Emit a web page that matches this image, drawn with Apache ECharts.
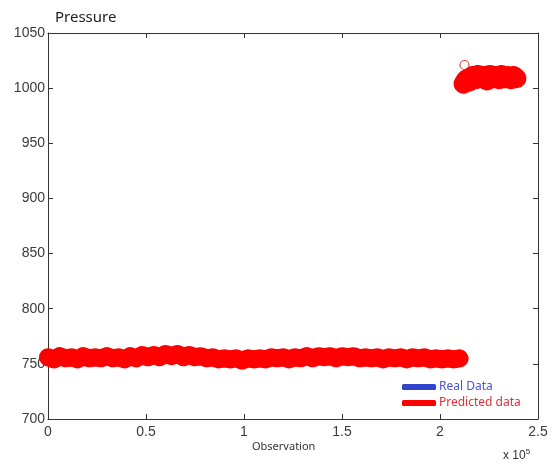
<!DOCTYPE html>
<html>
<head>
<meta charset="utf-8">
<script src="https://cdn.jsdelivr.net/npm/echarts@6/dist/echarts.min.js"></script>
<style>
html,body{margin:0;padding:0;background:#fff;}
#c{width:555px;height:466px;}
</style>
</head>
<body>
<div id="c"></div>
<script>
var obsLow = [0,3000,6000,9000,12000,15000,18000,21000,24000,27000,
  30000,33000,36000,39000,42000,45000,48000,51000,54000,57000,
  60000,63000,66000,69000,72000,75000,78000,81000,84000,87000,
  90000,93000,96000,99000,102000,105000,108000,111000,114000,117000,
  120000,123000,126000,129000,132000,135000,138000,141000,144000,147000,
  150000,153000,156000,159000,162000,165000,168000,171000,174000,177000,
  180000,183000,186000,189000,192000,195000,198000,201000,204000,207000,210000];
var predLow = [756,754,757,755,756,754,757,755,756,755,
  757,755,756,754,757,755,758,756,758,756,
  759,757,759,756,758,756,757,755,756,754,
  755,754,755,753,755,754,755,754,756,755,
  756,754,756,755,757,755,757,756,757,755,
  757,756,757,755,756,755,756,754,756,755,
  756,754,756,755,756,754,755,754,755,754,755];
var obsHigh = [212000,213500,215000,216500,218000,219500,221000,222500,224000,225500,
  227000,228500,230000,231500,233000,234500,236000,237500,239000];
var predHigh = [1004,1008,1006,1011,1008,1012,1009,1011,1007,1012,
  1009,1011,1008,1012,1009,1011,1008,1011,1009];
var outlierObs = 212500, outlierVal = 1021;
var realObs = [0,30000,60000,90000,120000,150000,180000,210000,null,215000,225000,235000];
var realVal = [755,755,756,754,755,755,754,754,null,1008,1008,1009];
var xTicks = ['0','0.5','1','1.5','2','2.5'];
var yTicks = [700,750,800,850,900,950,1000,1050];

var lowData = obsLow.map(function(o,k){return [o, predLow[k]];});
var highData = obsHigh.map(function(o,k){return [o, predHigh[k]];});
var realData = realObs.map(function(o,k){return o === null ? [null,null] : [o, realVal[k]];});

var chart = echarts.init(document.getElementById('c'), null, {renderer:'canvas'});
var axisCol = '#333';
var lblFont = {color:'#3a3a3a', fontSize:14, fontFamily:'Liberation Sans, Arial, sans-serif'};
chart.setOption({
  animation:false,
  backgroundColor:'#fff',
  title:{text:'Pressure', left:50, top:5,
    textStyle:{fontSize:15, fontWeight:'normal', color:'#222', fontFamily:'Noto Sans, Open Sans, sans-serif'}},
  grid:{left:48, right:17, top:33, bottom:47},
  legend:{
    orient:'vertical', left:397, top:376, itemGap:4, itemWidth:34, itemHeight:6,
    icon:'roundRect',
    data:[
      {name:'Real Data', textStyle:{color:'#4a55d0'}},
      {name:'Predicted data', textStyle:{color:'#e0303a'}}
    ],
    textStyle:{fontSize:12, padding:[0,0,0,-2], fontFamily:'Noto Sans, Open Sans, sans-serif'}
  },
  xAxis:[{
    type:'value', min:0, max:250000, interval:50000,
    axisLine:{show:true, onZero:false, lineStyle:{color:axisCol}},
    axisTick:{show:true, inside:true, length:5, lineStyle:{color:axisCol}},
    splitLine:{show:false},
    axisLabel:Object.assign({margin:6, formatter:function(v){return xTicks[Math.round(v/50000)];}}, lblFont)
  },{
    type:'value', position:'top', min:0, max:250000, interval:50000,
    axisLine:{show:true, onZero:false, lineStyle:{color:axisCol}},
    axisTick:{show:true, inside:true, length:5, lineStyle:{color:axisCol}},
    splitLine:{show:false}, axisLabel:{show:false}
  }],
  yAxis:[{
    type:'value', min:700, max:1050, interval:50,
    axisLine:{show:true, onZero:false, lineStyle:{color:axisCol}},
    axisTick:{show:true, inside:true, length:5, lineStyle:{color:axisCol}},
    splitLine:{show:false},
    axisLabel:Object.assign({margin:3, formatter:function(v){return yTicks.indexOf(v)>=0 ? String(v) : '';}}, lblFont)
  },{
    type:'value', position:'right', min:700, max:1050, interval:50,
    axisLine:{show:true, onZero:false, lineStyle:{color:axisCol}},
    axisTick:{show:true, inside:true, length:5, lineStyle:{color:axisCol}},
    splitLine:{show:false}, axisLabel:{show:false}
  }],
  series:[
    {name:'Real Data', type:'line', data:realData, showSymbol:false, symbol:'none', z:1,
      connectNulls:false, itemStyle:{color:'#3344cc'},
      lineStyle:{color:'#3344cc', width:8, cap:'round', join:'round'}},
    {name:'Predicted data', type:'line', data:lowData, showSymbol:false, symbol:'none', z:2,
      itemStyle:{color:'#ff0000'},
      lineStyle:{color:'#ff0000', width:18, cap:'round', join:'round'}},
    {name:'Predicted data', type:'line', data:highData, showSymbol:false, symbol:'none', z:2,
      itemStyle:{color:'#ff0000'},
      lineStyle:{color:'#ff0000', width:20, cap:'round', join:'round'}},
    {name:'Predicted data', type:'scatter', data:[[outlierObs, outlierVal]], symbolSize:9, z:3,
      itemStyle:{color:'rgba(255,255,255,0)', borderColor:'#d82020', borderWidth:1.2}}
  ],
  graphic:[
    {type:'text', left:252, top:441, style:{text:'Observation', fontSize:11, fill:'#333', fontFamily:'Noto Sans, Open Sans, sans-serif'}},
    {type:'text', left:503, top:448, style:{
      text:'x 10{s|5}', fontSize:12, fill:'#333', fontFamily:'Liberation Sans, Arial, sans-serif',
      rich:{s:{fontSize:8, verticalAlign:'top', padding:[0,0,8,0], fill:'#333'}}}}
  ]
});
</script>
</body>
</html>
